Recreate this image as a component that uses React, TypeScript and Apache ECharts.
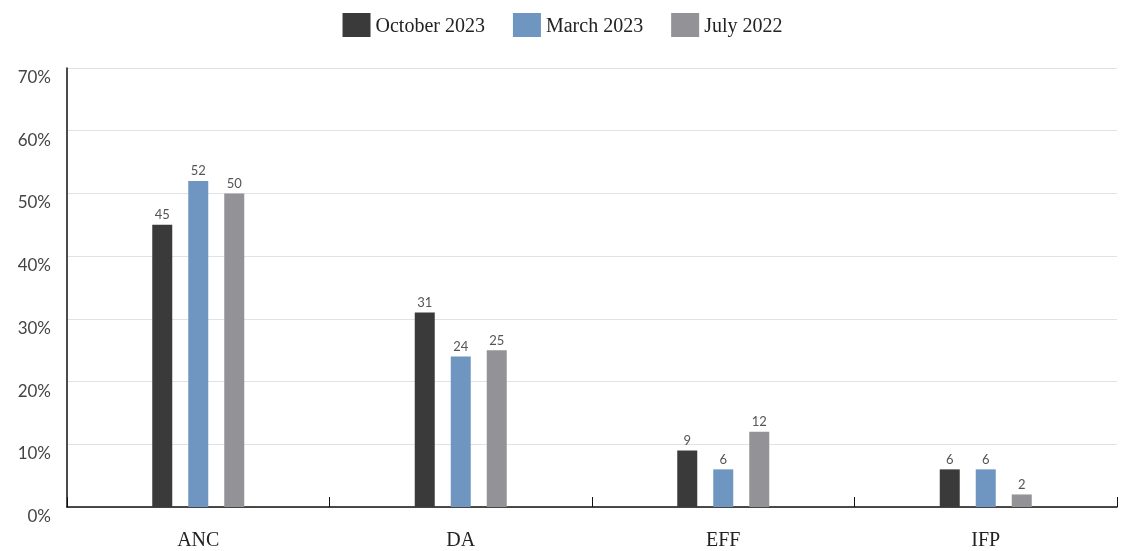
import React, { useEffect, useRef } from "react";
import * as echarts from "echarts";

const categories = ["ANC", "DA", "EFF", "IFP"];
const october2023 = [45, 31, 9, 6];
const march2023 = [52, 24, 6, 6];
const july2022 = [50, 25, 12, 2];
const seriesNames = ["October 2023", "March 2023", "July 2022"];
const colors = ["#3a3a3a", "#6f96c0", "#939397"];

export default function App() {
  const ref = useRef<HTMLDivElement>(null);
  useEffect(() => {
    const chart = echarts.init(ref.current!, null, { renderer: "svg" });
    const data = [october2023, march2023, july2022];
    chart.setOption({
      animation: false,
      legend: {
        top: 13,
        left: "center",
        itemWidth: 28,
        itemHeight: 24,
        itemGap: 28,
        icon: "rect",
        padding: 0,
        textStyle: { fontFamily: "Liberation Serif", fontSize: 20, color: "#222" },
        data: seriesNames,
      },
      grid: { left: 67, right: 8, top: 68, bottom: 44 },
      xAxis: {
        type: "category",
        data: categories,
        axisLine: { lineStyle: { color: "#111", width: 1.5 } },
        axisTick: { show: true, inside: true, length: 10, lineStyle: { color: "#111" } },
        axisLabel: { fontFamily: "Liberation Serif", fontSize: 20, color: "#222", margin: 22 },
      },
      yAxis: {
        type: "value",
        min: 0,
        max: 70,
        interval: 10,
        axisLine: { show: true, lineStyle: { color: "#111", width: 1.5 } },
        axisTick: { show: false },
        splitLine: { lineStyle: { color: "#e2e2e2" } },
        axisLabel: {
          formatter: "{value}%",
          fontFamily: "Lato",
          fontSize: 17,
          color: "#444",
          margin: 16,
          verticalAlign: "top",
        },
      },
      series: seriesNames.map((name, i) => ({
        name,
        type: "bar",
        data: data[i],
        barWidth: 20,
        barGap: "80%",
        itemStyle: { color: colors[i] },
        label: {
          show: true,
          position: "top",
          distance: 4,
          fontFamily: "Lato",
          fontSize: 13,
          color: "#555",
        },
      })),
    });
    return () => chart.dispose();
  }, []);
  return (
    <div
      ref={ref}
      style={{ position: "fixed", left: 0, top: 0, width: 1125, height: 551 }}
    />
  );
}
